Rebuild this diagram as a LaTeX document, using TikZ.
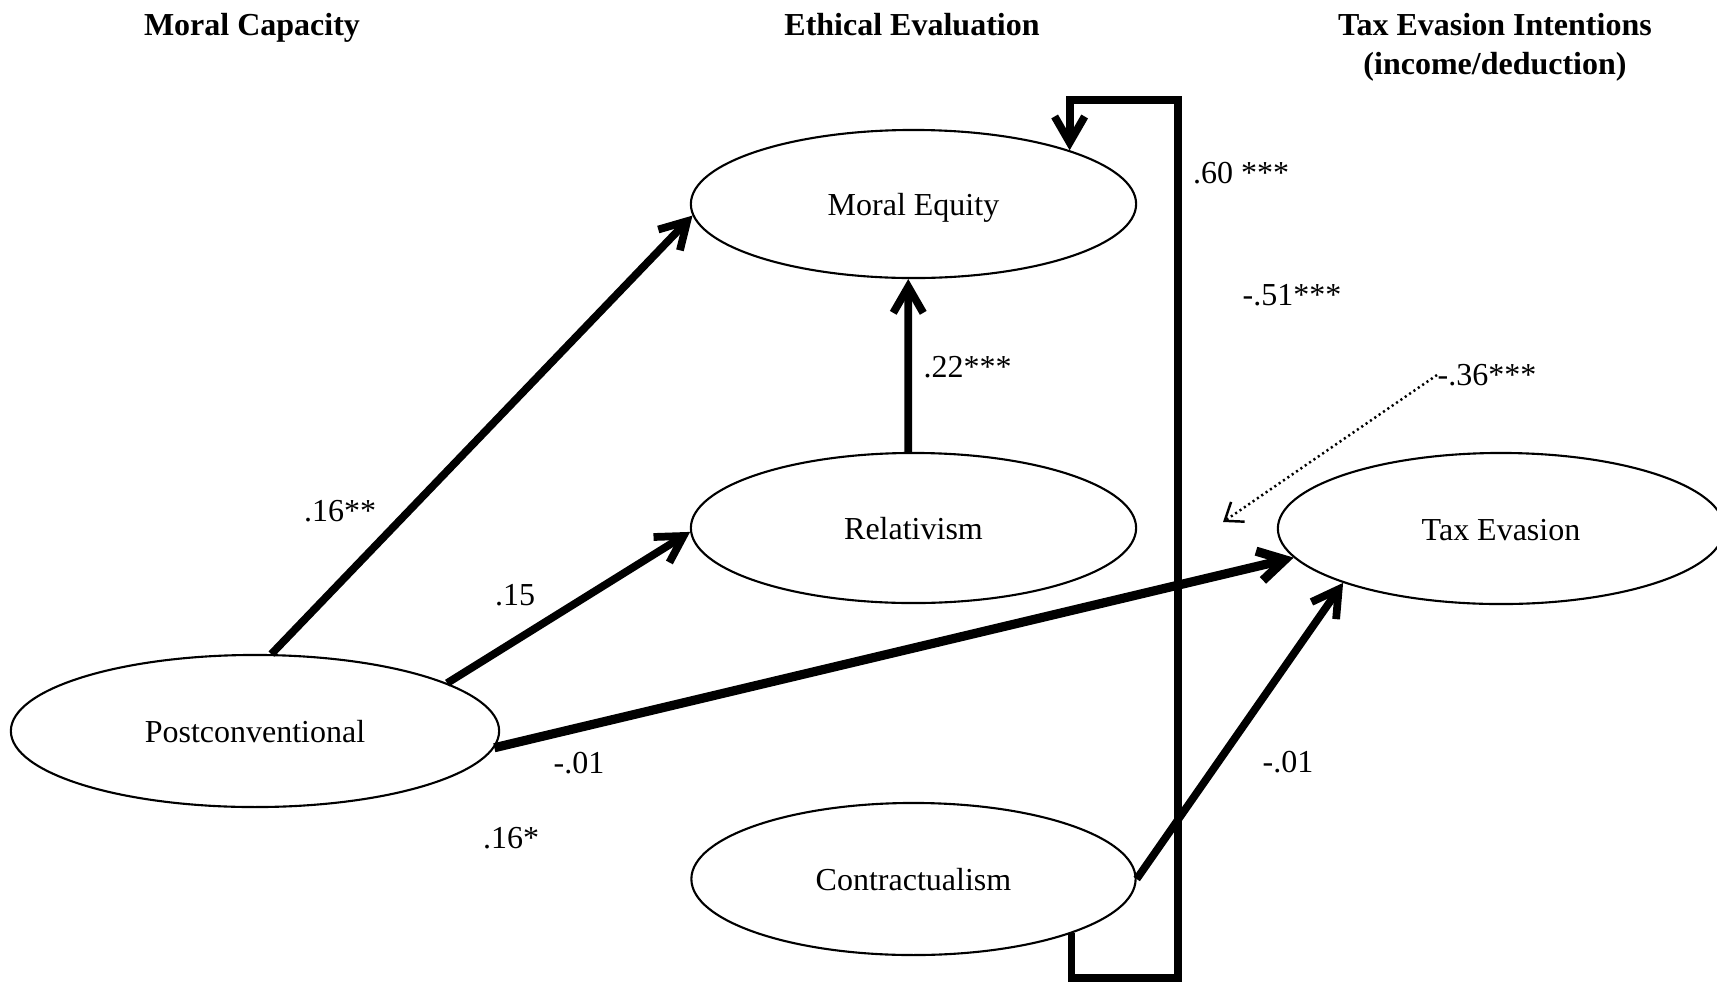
\documentclass[tikz,border=0pt]{standalone}
\usepackage{fontspec}
\setmainfont{Liberation Serif}
\usetikzlibrary{shapes.geometric,arrows.meta}
\begin{document}
\begin{tikzpicture}[x=0.01cm,y=-0.01cm,
  every node/.style={font=\fontsize{9.1}{11}\selectfont},
  latent/.style={ellipse, draw, line width=0.6pt, inner sep=0pt, text height=0.66em, text depth=0pt},
  heading/.style={font=\fontsize{9.1}{11}\selectfont\bfseries, anchor=base, inner sep=0pt},
  coef/.style={inner sep=0pt},
  effect/.style={line width=2.2pt, -{Straight Barb[length=2.6mm,width=3mm]}},
  hint/.style={line width=0.7pt, dash pattern=on 0.6pt off 0.9pt, -{Straight Barb[length=1.6mm,width=2.4mm]}}]
\useasboundingbox (0,0) rectangle (1717,984);

% headings
\node[heading] (h1) at (252,35) {Moral Capacity};
\node[heading] (h2) at (912,35) {Ethical Evaluation};
\node[heading] (h3) at (1495,35) {Tax Evasion Intentions};
\node[heading] (h4) at (1495,74.5) {(income/deduction)};

% latent variables
\node[latent, minimum width=4.45cm, minimum height=1.48cm] (me) at (913.5,204) {Moral Equity};
\node[latent, minimum width=4.45cm, minimum height=1.50cm] (rel) at (913.5,528) {Relativism};
\node[latent, minimum width=4.44cm, minimum height=1.52cm] (con) at (913.5,879) {Contractualism};
\node[latent, minimum width=4.88cm, minimum height=1.52cm] (post) at (255,731) {Postconventional};
\node[latent, minimum width=4.46cm, minimum height=1.51cm] (tax) at (1501,528.5) {Tax Evasion};

% paths
\draw[effect] (post.78.8) -- (me.183.9);
\draw[effect] (post.14) -- (rel.181.3);
\draw[effect, line width=2.6pt] (post.356.2) -- (tax.188.4);
\draw[effect] (rel.94) -- (me.266);
\draw[effect] (con.east) -- (tax.199);

\coordinate (lb) at (1178,978);
\coordinate (lt) at (1178,100);
\draw[effect, line join=miter] (con.341.5) |- (lb) -- (lt) -| (me.19.7);

% coefficients
\node[coef] (c1) at (340,511) {.16**};
\node[coef] (c2) at (515,595) {.15};
\node[coef] (c3) at (579,763) {-.01};
\node[coef] (c4) at (511,838) {.16*};
\node[coef, anchor=west] (c5) at (923,367) {.22***};
\node[coef] (c6) at (1241,173) {.60 ***};
\node[coef] (c7) at (1292,295) {-.51***};
\node[coef, anchor=west] (c8) at (1437,375) {-.36***};
\node[coef] (c9) at (1288,762) {-.01};

\coordinate (dotend) at (1223,522);
\draw[hint] (c8.west) -- (dotend);
\end{tikzpicture}
\end{document}
